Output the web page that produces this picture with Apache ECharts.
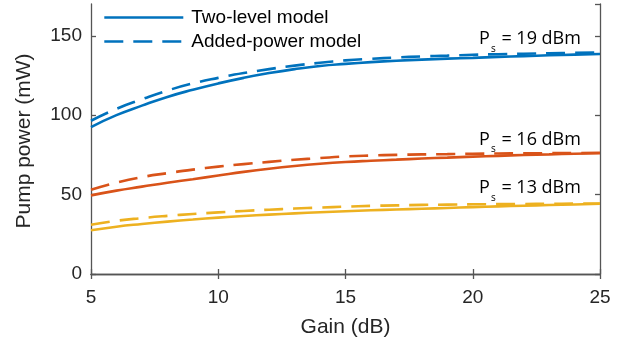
<!DOCTYPE html>
<html>
<head>
<meta charset="utf-8">
<script src="https://cdn.jsdelivr.net/npm/echarts@6/dist/echarts.min.js"></script>
<style>
  html, body { margin: 0; padding: 0; background: #fff; }
  #chart { width: 631px; height: 343px; }
</style>
</head>
<body>
<div id="chart"></div>
<script>
// gain axis (dB)
var gains = [5, 6, 7, 8, 9, 10, 11, 12, 13, 14, 15, 16, 17, 18, 19, 20, 21, 22, 23, 24, 25];

// pump power (mW), Ps = 19 dBm
var twoLevel19 = [92.5, 100, 106, 111.5, 116, 120, 123.5, 126.5, 129, 131, 132.3, 133.4, 134.3, 135, 135.6, 136.1, 136.7, 137.2, 137.7, 138.1, 138.5];
var added19 = [96.5, 104, 110, 115.5, 120, 123.5, 126.5, 129, 131.2, 133, 134.5, 135.5, 136.3, 137, 137.5, 138, 138.4, 138.7, 139, 139.2, 139.4];
// Ps = 16 dBm
var twoLevel16 = [49.5, 52.5, 55, 57.5, 59.7, 62, 64.3, 66.3, 68, 69.4, 70.5, 71.3, 72, 72.7, 73.3, 73.9, 74.4, 74.9, 75.3, 75.7, 76];
var added16 = [53, 57.5, 61, 63.5, 65.7, 67.6, 69.2, 70.6, 71.9, 73, 74, 74.6, 75, 75.3, 75.5, 75.7, 75.9, 76, 76.1, 76.2, 76.3];
// Ps = 13 dBm
var twoLevel13 = [27.5, 29.8, 31.5, 33, 34.3, 35.5, 36.5, 37.4, 38.2, 38.9, 39.5, 40.1, 40.6, 41.1, 41.6, 42.1, 42.6, 43, 43.4, 43.8, 44.2];
var added13 = [31, 33.5, 35.2, 36.6, 37.8, 38.8, 39.7, 40.5, 41.2, 41.8, 42.4, 42.9, 43.2, 43.5, 43.7, 43.9, 44, 44.1, 44.2, 44.3, 44.4];

var yTicks = [0, 50, 100, 150];
var labelText = ['19 dBm', '16 dBm', '13 dBm'];
var labelAt = [[22.25, 146.5], [22.25, 83.4], [22.25, 52.7]];

function pairs(ys) {
  return gains.map(function (g, i) { return [g, ys[i]]; });
}

var blue = '#0072BD', orange = '#D95319', yellow = '#EDB120';
var axisColor = '#555555';
var font = '"Liberation Sans", Arial, sans-serif';

function annot(i) {
  return {
    symbol: 'circle',
    symbolSize: 0,
    silent: true,
    label: {
      show: true,
      position: 'inside',
      formatter: '{p|P}{s|s}{p| = ' + labelText[i] + '}',
      rich: {
        p: { fontFamily: '"Open Sans", sans-serif', fontSize: 18, color: '#000', lineHeight: 22, verticalAlign: 'top' },
        s: { fontFamily: '"Open Sans", sans-serif', fontSize: 10, color: '#000', lineHeight: 10, verticalAlign: 'top', padding: [14, 1, 0, 1] }
      }
    },
    data: [{ coord: labelAt[i] }]
  };
}

function line(name, ys, color, dashed, mark) {
  var s = {
    name: name,
    type: 'line',
    data: pairs(ys),
    symbol: 'none',
    smooth: true,
    color: color,
    lineStyle: { width: 2.6, color: color, type: dashed ? [19, 10] : 'solid' },
    z: dashed ? 3 : 2
  };
  if (mark !== undefined) s.markPoint = annot(mark);
  return s;
}

var chart = echarts.init(document.getElementById('chart'));
chart.setOption({
  animation: false,
  grid: { left: 91, right: 31, top: 4, bottom: 67 },
  legend: {
    data: ['Two-level model', 'Added-power model'],
    orient: 'vertical',
    left: 98,
    top: 2,
    itemWidth: 79,
    itemHeight: 14,
    itemGap: 3,
    itemStyle: { color: 'rgba(0,0,0,0)', borderWidth: 0, opacity: 0 },
    lineStyle: { width: 2.6 },
    textStyle: { fontFamily: font, fontSize: 19, color: '#000', lineHeight: 21, padding: [0, 0, 0, 3] }
  },
  xAxis: [{
    type: 'value',
    min: 5,
    max: 25,
    interval: 5,
    name: 'Gain (dB)',
    nameLocation: 'middle',
    nameGap: 43,
    nameTextStyle: { fontFamily: font, fontSize: 21, color: '#262626' },
    axisLine: { show: true, lineStyle: { color: axisColor, width: 1.3 } },
    axisTick: { show: true, inside: true, length: 5, lineStyle: { color: axisColor, width: 1.3 } },
    axisLabel: { fontFamily: font, fontSize: 19, color: '#262626', margin: 14 },
    splitLine: { show: false }
  }, {
    type: 'value',
    position: 'top',
    min: 5,
    max: 25,
    interval: 5,
    axisLine: { show: true, lineStyle: { color: axisColor, width: 1.3 } },
    axisTick: { show: true, inside: true, length: 5, lineStyle: { color: axisColor, width: 1.3 } },
    axisLabel: { show: false },
    splitLine: { show: false }
  }],
  yAxis: [{
    type: 'value',
    min: 0,
    max: 170,
    interval: 50,
    name: 'Pump power (mW)',
    nameLocation: 'middle',
    nameGap: 56,
    nameTextStyle: { fontFamily: font, fontSize: 21, color: '#262626', padding: [0, 4, 0, 0] },
    axisLine: { show: true, lineStyle: { color: axisColor, width: 1.3 } },
    axisTick: { show: true, inside: true, length: 5, lineStyle: { color: axisColor, width: 1.3 } },
    axisLabel: {
      fontFamily: font, fontSize: 19, color: '#262626', margin: 9, showMaxLabel: false,
      formatter: function (v) { return yTicks.indexOf(v) >= 0 ? String(v) : ''; }
    },
    splitLine: { show: false }
  }, {
    type: 'value',
    position: 'right',
    min: 0,
    max: 170,
    interval: 50,
    axisLine: { show: true, lineStyle: { color: axisColor, width: 1.3 } },
    axisTick: { show: true, inside: true, length: 5, lineStyle: { color: axisColor, width: 1.3 } },
    axisLabel: { show: false },
    splitLine: { show: false }
  }],
  series: [
    line('Two-level model', twoLevel19, blue, false, 0),
    line('Added-power model', added19, blue, true),
    line('Two-level 16', twoLevel16, orange, false, 1),
    line('Added-power 16', added16, orange, true),
    line('Two-level 13', twoLevel13, yellow, false, 2),
    line('Added-power 13', added13, yellow, true)
  ]
});
</script>
</body>
</html>
